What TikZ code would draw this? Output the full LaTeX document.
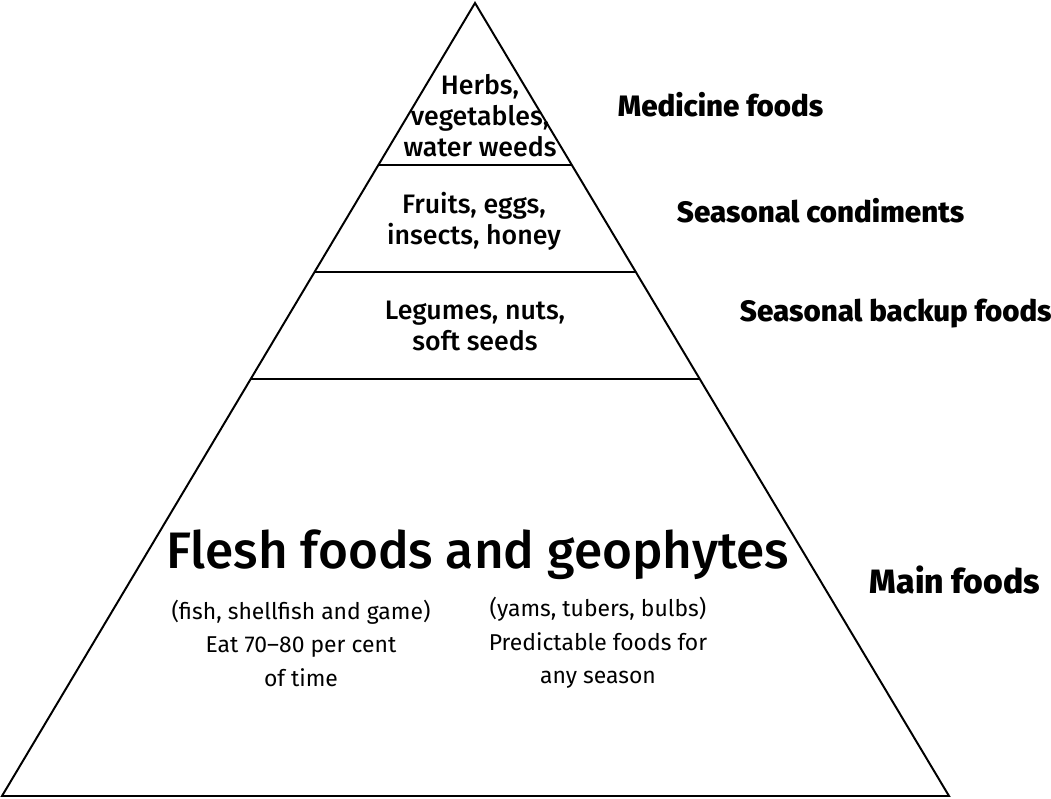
\documentclass[tikz,border=0pt]{standalone}
\usepackage{fontspec}
\setmainfont{Fira Sans}
\newfontfamily\medfont{Fira Sans Medium}
\newfontfamily\heavyfont{Fira Sans ExtraBold}
\usetikzlibrary{calc}

\begin{document}
\begin{tikzpicture}[line width=1.4pt, inner sep=0pt,
	tier/.style={align=center, font=\medfont\fontsize{19}{22}\selectfont},
	note/.style={align=center, font=\fontsize{16.3}{23.8}\selectfont},
	level/.style={anchor=west, font=\heavyfont\fontsize{21}{24}\selectfont}]
	\useasboundingbox (0,0) rectangle (26.275,19.95);
	\coordinate (top) at (11.875,19.875);
	\coordinate (bl) at (0.05,0.05);
	\coordinate (br) at (23.725,0.05);
	\draw (top) -- (bl) -- (br) -- cycle;
	\draw ($(top)!0.2043!(bl)$) -- ($(top)!0.2043!(br)$);
	\draw ($(top)!0.3392!(bl)$) -- ($(top)!0.3392!(br)$);
	\draw ($(top)!0.4741!(bl)$) -- ($(top)!0.4741!(br)$);
	\node [tier] (herbs) at (12.0,17.05) {Herbs,\\vegetables,\\water weeds};
	\node [tier] (fruits) at (11.85,14.425) {Fruits, eggs,\\insects, honey};
	\node [tier] (legumes) at (11.875,11.8) {Legumes, nuts,\\soft seeds};
	\node [font=\medfont\fontsize{36.5}{40}\selectfont] (flesh) at (11.94,6.075) {Flesh foods and geophytes};
	\node [note] (fleshnote) at (7.525,3.875) {(fish, shellfish and game)\\Eat 70--80 per cent\\of time};
	\node [note] (geonote) at (14.95,3.875) {(yams, tubers, bulbs)\\Predictable foods for\\any season};
	\node [level] (medicine) at (15.425,17.325) {Medicine foods};
	\node [level] (condiments) at (16.9,14.675) {Seasonal condiments};
	\node [level] (backup) at (18.475,12.1) {Seasonal backup foods};
	\node [level, font=\heavyfont\fontsize{24}{27}\selectfont] (mainfoods) at (21.725,5.45) {Main foods};
\end{tikzpicture}
\end{document}
